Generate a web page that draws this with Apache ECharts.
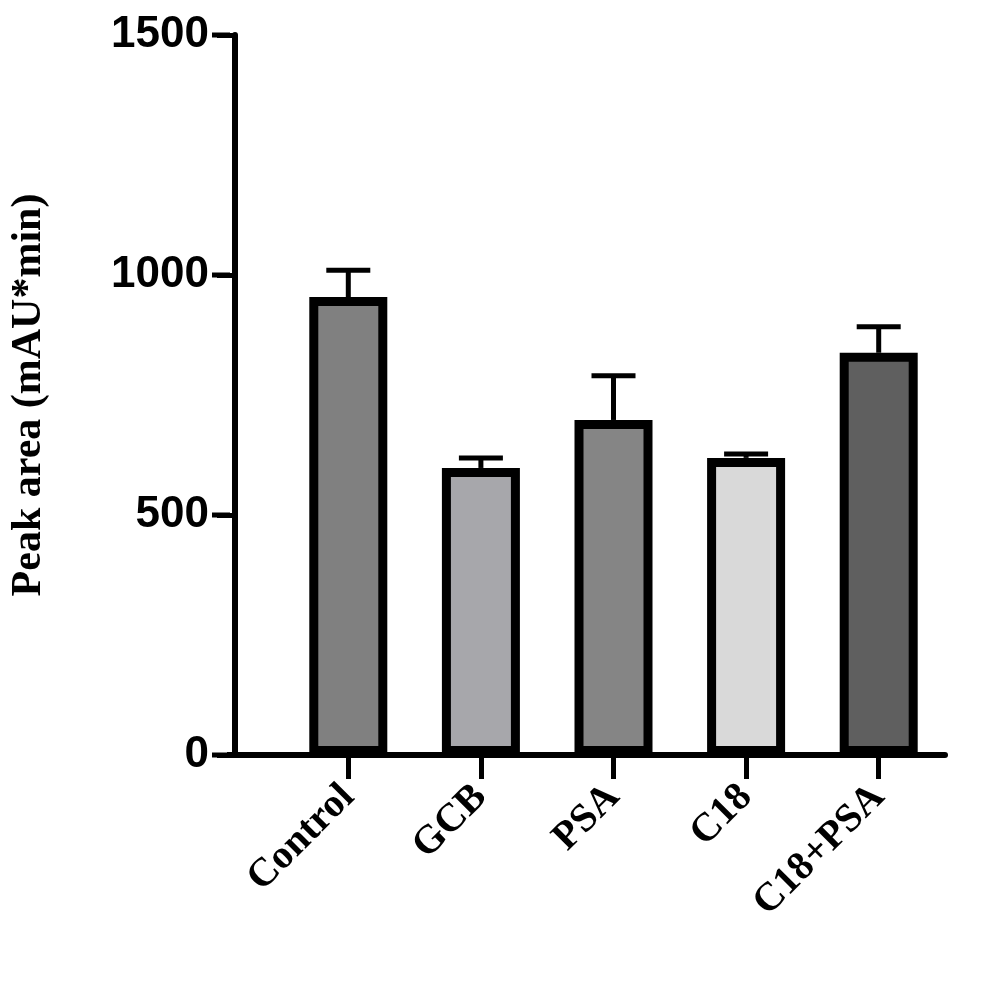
<!DOCTYPE html>
<html><head><meta charset="utf-8">
<script src="https://cdn.jsdelivr.net/npm/echarts@6/dist/echarts.min.js"></script>
<style>html,body{margin:0;background:#fff}#c{width:988px;height:1003px}</style>
</head><body><div id="c"></div>
<script>
const categories = ['Control','GCB','PSA','C18','C18+PSA'];
const means = [954, 598, 698, 619, 838];
const errors = [56, 21, 92, 8, 54];
const colors = ['#808080','#a7a7ab','#858585','#d9d9d9','#5f5f5f'];
const yTicks = [0, 500, 1000, 1500];

const chart = echarts.init(document.getElementById('c'));
chart.setOption({
  animation:false,
  grid:{left:277,right:43,top:35,bottom:248},
  xAxis:{type:'category',data:categories,
    axisLine:{lineStyle:{color:'#000',width:6}},
    axisTick:{show:true,inside:false,interval:0,alignWithLabel:true,length:24,lineStyle:{color:'#000',width:5}},
    axisLabel:{show:true,interval:0,rotate:45,margin:36,color:'#000',fontFamily:'Liberation Serif',fontWeight:'bold',fontSize:40}},
  yAxis:{type:'value',min:0,max:1500,interval:500,offset:47,
    name:'Peak area (mAU*min)',nameLocation:'middle',nameGap:185,
    nameTextStyle:{color:'#000',fontFamily:'Liberation Serif',fontWeight:'bold',fontSize:42},
    axisLine:{show:true,lineStyle:{color:'#000',width:6}},
    axisTick:{show:true,inside:false,length:18,lineStyle:{color:'#000',width:5}},
    splitLine:{show:false},
    axisLabel:{color:'#000',fontFamily:'Liberation Sans',fontWeight:'bold',fontSize:44,margin:26,
      formatter:v=>String(v)}},
  graphic:[{type:'line',shape:{x1:227,y1:755,x2:282,y2:755},style:{stroke:'#000',lineWidth:6}},
    {type:'line',shape:{x1:212,y1:35,x2:230,y2:35},style:{stroke:'#000',lineWidth:5}},
    {type:'line',shape:{x1:212,y1:275,x2:230,y2:275},style:{stroke:'#000',lineWidth:5}},
    {type:'line',shape:{x1:212,y1:515,x2:230,y2:515},style:{stroke:'#000',lineWidth:5}},
    {type:'line',shape:{x1:212,y1:755,x2:230,y2:755},style:{stroke:'#000',lineWidth:5}}],
  series:[
    {type:'bar',barWidth:78,
     data:means.map((v,i)=>({value:v,itemStyle:{color:colors[i],borderColor:'#000',borderWidth:9}}))},
    {type:'custom',z:1,
     data:means.map((v,i)=>[i,v,v+errors[i]]),
     renderItem:(p,api)=>{
       const lo=api.coord([api.value(0),api.value(1)]);
       const hi=api.coord([api.value(0),api.value(2)]);
       const w=22;
       return {type:'group',children:[
         {type:'line',shape:{x1:lo[0],y1:lo[1],x2:hi[0],y2:hi[1]},style:{stroke:'#000',lineWidth:5}},
         {type:'line',shape:{x1:hi[0]-w,y1:hi[1],x2:hi[0]+w,y2:hi[1]},style:{stroke:'#000',lineWidth:5}}
       ]};
     }}
  ]
});
</script></body></html>
